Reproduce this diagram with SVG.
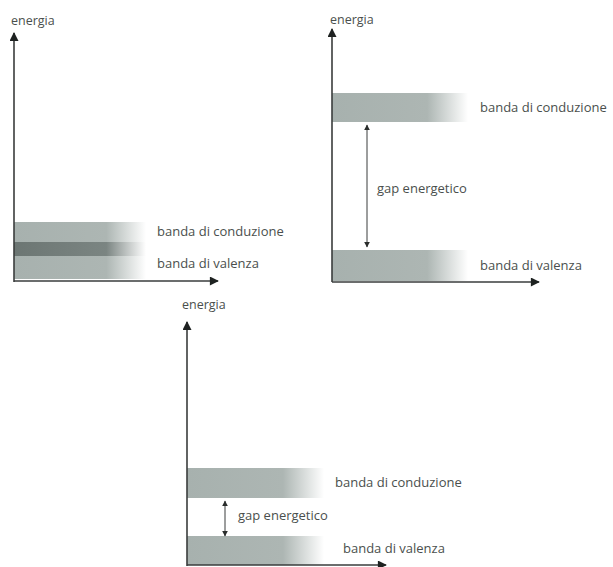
<svg xmlns="http://www.w3.org/2000/svg" width="613" height="567" viewBox="0 0 613 567">
  <style>
    .axis { stroke: #3a3d3c; stroke-width: 1.6; fill: none; }
    .gap { stroke: #3a3d3c; stroke-width: 1; fill: none; }
    .lbl { font-family: "Open Sans", "Liberation Sans", sans-serif; font-size: 13px; fill: #4a4f4d; }
    .axlbl { font-family: "Open Sans", "Liberation Sans", sans-serif; font-size: 12.5px; fill: #4a4f4d; }
  </style>
  <defs>
    <linearGradient id="bandFade" x1="0" y1="0" x2="1" y2="0">
      <stop offset="0" stop-color="#a7b1ae"/>
      <stop offset="0.7" stop-color="#adb6b3"/>
      <stop offset="1" stop-color="#ffffff"/>
    </linearGradient>
    <linearGradient id="darkFade" x1="0" y1="0" x2="1" y2="0">
      <stop offset="0" stop-color="#6c7673"/>
      <stop offset="0.7" stop-color="#7b8582"/>
      <stop offset="1" stop-color="#ffffff"/>
    </linearGradient>
    <marker id="head" viewBox="0 0 10 10" refX="9" refY="5" markerWidth="6" markerHeight="6" orient="auto-start-reverse" markerUnits="userSpaceOnUse">
      <path d="M0,0 L10,5 L0,10 Z" fill="#2a2d2c"/>
    </marker>
    <marker id="bigHead" viewBox="0 0 10 10" refX="9" refY="5" markerWidth="13" markerHeight="9" orient="auto" markerUnits="userSpaceOnUse">
      <path d="M0,0 L10,5 L0,10 Z" fill="#1e2221"/>
    </marker>
  </defs>

  <!-- Panel 1: metal, overlapping bands -->
  <g id="panel-metal">
    <rect x="14" y="222" width="132" height="20" fill="url(#bandFade)"/>
    <rect x="14" y="242" width="132" height="14" fill="url(#darkFade)"/>
    <rect x="14" y="256" width="132" height="23" fill="url(#bandFade)"/>
    <text class="axlbl" x="11" y="25">energia</text>
    <text class="lbl" x="157" y="236">banda di conduzione</text>
    <text class="lbl" x="157" y="268">banda di valenza</text>
  </g>

  <!-- Panel 2: insulator, wide gap -->
  <g id="panel-insulator">
    <rect x="332" y="93" width="136" height="29" fill="url(#bandFade)"/>
    <rect x="332" y="250" width="136" height="31" fill="url(#bandFade)"/>
    <text class="axlbl" x="330" y="24">energia</text>
    <text class="lbl" x="480" y="112">banda di conduzione</text>
    <text class="lbl" x="377" y="193">gap energetico</text>
    <text class="lbl" x="480" y="270">banda di valenza</text>
  </g>

  <!-- Panel 3: semiconductor, narrow gap -->
  <g id="panel-semiconductor">
    <rect x="187" y="468" width="137" height="30" fill="url(#bandFade)"/>
    <rect x="187" y="536" width="137" height="29" fill="url(#bandFade)"/>
    <text class="axlbl" x="182" y="309">energia</text>
    <text class="lbl" x="335" y="487">banda di conduzione</text>
    <text class="lbl" x="238" y="520">gap energetico</text>
    <text class="lbl" x="343" y="553">banda di valenza</text>
  </g>

  <!-- Axes and gap arrows -->
  <g id="connectors">
    <path class="axis" d="M14,282 L14,33" marker-end="url(#bigHead)"/>
    <path class="axis" d="M14,281 L218,281" marker-end="url(#bigHead)"/>
    <path class="axis" d="M332,282 L332,29" marker-end="url(#bigHead)"/>
    <path class="axis" d="M332,282 L539,282" marker-end="url(#bigHead)"/>
    <path class="axis" d="M187,566 L187,322" marker-end="url(#bigHead)"/>
    <path class="axis" d="M187,565 L386,565" marker-end="url(#bigHead)"/>
    <path class="gap" d="M367,125 L367,247" marker-start="url(#head)" marker-end="url(#head)"/>
    <path class="gap" d="M225,501 L225,536" marker-start="url(#head)" marker-end="url(#head)"/>
  </g>
</svg>
